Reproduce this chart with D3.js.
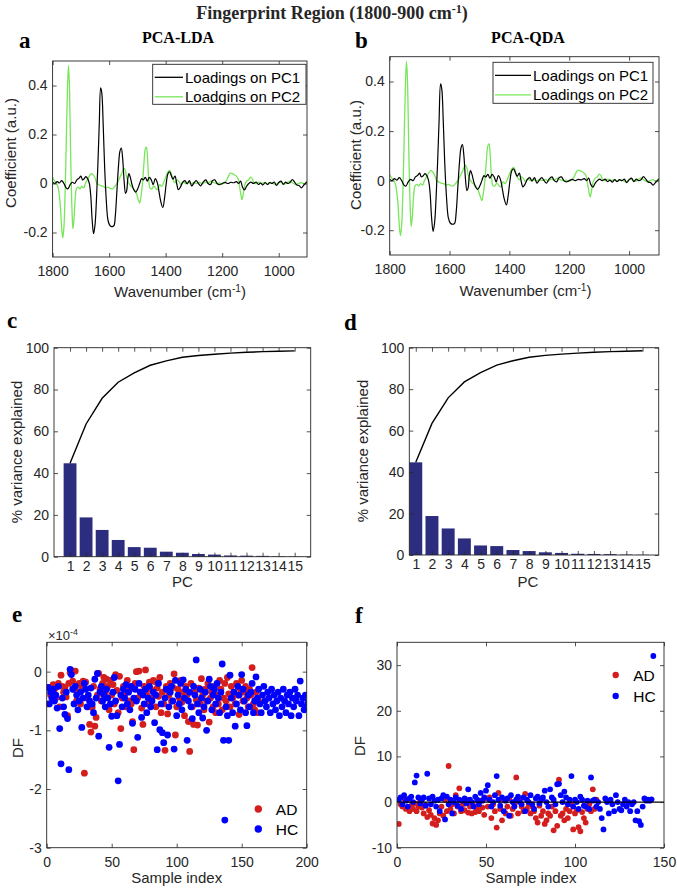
<!DOCTYPE html>
<html><head><meta charset="utf-8">
<script src="https://cdn.jsdelivr.net/npm/d3@7"></script>
<style>body{margin:0;background:#fff}</style>
</head><body><svg id="fig" width="677" height="892" xmlns="http://www.w3.org/2000/svg"></svg>
<script>
// ---------------- DATA ----------------
const wavenumberTicks = [1800, 1600, 1400, 1200, 1000];
const coefTicks = [-0.2, 0, 0.2, 0.4];
const pc1Loadings = [[1800,0.005],[1792,0.0],[1784,0.008],[1776,0.002],[1768,0.012],[1760,0.0],[1752,-0.018],[1746,-0.022],[1738,-0.005],[1730,0.005],[1722,0.0],[1714,0.015],[1706,0.022],[1700,0.03],[1694,0.015],[1688,0.02],[1682,0.028],[1676,0.02],[1670,0.0],[1665,-0.05],[1660,-0.15],[1655,-0.205],[1650,-0.17],[1645,-0.07],[1640,0.07],[1635,0.24],[1630,0.39],[1626,0.37],[1621,0.24],[1616,0.07],[1610,-0.07],[1604,-0.15],[1597,-0.172],[1590,-0.176],[1583,-0.172],[1578,-0.13],[1573,-0.04],[1567,0.07],[1562,0.13],[1557,0.145],[1552,0.1],[1547,0.01],[1542,-0.04],[1538,-0.03],[1534,0.02],[1530,0.04],[1525,0.025],[1519,-0.005],[1513,-0.025],[1506,-0.035],[1499,-0.022],[1492,0.0],[1485,0.02],[1479,0.015],[1472,0.025],[1465,0.01],[1458,0.025],[1451,0.015],[1444,-0.005],[1437,0.02],[1430,0.005],[1424,-0.03],[1418,-0.07],[1410,-0.098],[1404,-0.06],[1398,0.0],[1392,0.04],[1386,0.048],[1380,0.032],[1374,0.018],[1367,0.03],[1361,0.0],[1355,-0.025],[1348,-0.015],[1340,0.005],[1332,0.012],[1324,-0.002],[1316,0.012],[1308,-0.01],[1300,0.002],[1292,0.012],[1284,0.0],[1276,-0.01],[1268,0.005],[1258,0.015],[1250,0.0],[1242,-0.005],[1234,0.012],[1226,0.015],[1218,0.0],[1210,-0.005],[1200,0.0],[1190,0.005],[1180,0.0],[1170,0.005],[1160,0.003],[1150,0.008],[1142,0.0],[1135,0.01],[1128,-0.015],[1121,-0.026],[1114,-0.012],[1106,0.0],[1098,0.006],[1090,0.0],[1080,0.006],[1072,-0.004],[1064,0.002],[1056,-0.006],[1048,0.004],[1040,-0.004],[1032,0.004],[1024,0.0],[1016,0.006],[1008,-0.008],[1000,0.004],[992,0.01],[984,-0.004],[976,0.006],[968,0.0],[960,0.004],[952,0.016],[944,0.006],[936,-0.006],[928,-0.008],[920,-0.018],[912,-0.008],[904,0.002],[900,0.006]];
const pc2Loadings = [[1800,0.025],[1794,0.012],[1788,0.004],[1782,-0.01],[1777,-0.04],[1772,-0.1],[1768,-0.18],[1764,-0.222],[1760,-0.18],[1756,-0.05],[1752,0.15],[1748,0.36],[1744,0.482],[1741,0.42],[1738,0.25],[1735,0.05],[1731,-0.12],[1728,-0.185],[1724,-0.14],[1720,-0.06],[1715,-0.02],[1709,-0.015],[1703,-0.022],[1697,-0.012],[1690,-0.018],[1684,0.0],[1677,0.015],[1670,0.03],[1663,0.04],[1656,0.035],[1649,0.02],[1643,0.0],[1636,-0.005],[1628,-0.01],[1620,-0.012],[1612,-0.018],[1604,-0.015],[1596,-0.02],[1588,-0.022],[1580,-0.012],[1572,0.0],[1564,0.02],[1556,0.04],[1548,0.062],[1543,0.055],[1538,0.025],[1532,0.005],[1525,-0.008],[1518,-0.015],[1511,-0.025],[1504,-0.04],[1497,-0.065],[1492,-0.08],[1487,-0.05],[1482,0.0],[1477,0.08],[1472,0.14],[1468,0.148],[1464,0.1],[1460,0.02],[1455,-0.02],[1449,-0.022],[1442,-0.01],[1435,-0.02],[1428,-0.025],[1421,-0.005],[1414,-0.012],[1407,0.005],[1400,0.025],[1393,0.045],[1386,0.053],[1380,0.04],[1374,0.015],[1367,0.003],[1360,0.015],[1353,0.008],[1346,-0.005],[1338,0.008],[1330,0.0],[1320,0.006],[1310,-0.002],[1300,0.004],[1290,0.0],[1280,0.005],[1270,-0.002],[1260,0.006],[1250,0.002],[1240,0.01],[1230,0.004],[1220,0.0],[1210,0.002],[1200,-0.002],[1192,0.003],[1185,0.012],[1178,0.03],[1171,0.042],[1164,0.04],[1157,0.036],[1150,0.03],[1144,0.02],[1139,-0.01],[1134,-0.045],[1130,-0.066],[1126,-0.045],[1120,-0.005],[1113,0.01],[1106,0.015],[1100,0.026],[1094,0.02],[1088,0.004],[1080,0.0],[1070,0.006],[1060,0.0],[1050,0.004],[1040,-0.002],[1030,0.004],[1020,0.0],[1010,-0.004],[1000,0.003],[990,0.006],[980,-0.003],[970,0.004],[960,0.01],[950,0.002],[940,-0.004],[930,0.0],[920,0.004],[910,-0.002],[900,0.01]];

const pcNumbers = [1,2,3,4,5,6,7,8,9,10,11,12,13,14,15];
const varExplained = [44.7,18.8,12.8,8.0,4.6,4.3,2.4,1.9,1.3,1.0,0.6,0.5,0.4,0.2,0.1];
const cumVarExplained = [44.7,63.5,75.8,83.5,88.0,91.6,93.7,95.4,96.3,96.9,97.4,97.8,98.1,98.3,98.5];
const varTicks = [0,20,40,60,80,100];

// PCA-LDA discriminant function (x 1e-4), one value per sample index
const ldaAD = [-0.55,-0.27,-0.40,-0.35,-0.22,-0.30,-0.45,-0.25,-0.20,-0.60,
 -0.06,-0.25,-0.35,-0.27,-0.43,-0.75,-0.20,-0.02,0.02,-0.16,
 -0.30,0.01,-0.50,-0.35,-0.20,-0.55,-0.28,-0.16,-1.73,-0.18,
 -0.45,-0.60,-0.90,-1.03,-0.61,-0.25,-0.93,-0.78,-0.40,-0.03,
 -0.30,-0.50,-0.20,-0.10,-0.35,-0.13,-0.25,-0.65,-0.15,-0.40,
 -0.22,-0.55,-0.05,-0.32,-0.70,-0.08,-0.97,-0.45,-0.25,-0.38,
 -0.60,-0.15,-0.50,-0.30,-0.55,-0.85,-1.33,-0.20,0.00,-0.45,
 0.01,-0.35,-0.62,-0.90,-0.25,0.03,-0.40,-0.55,-0.18,-0.30,
 -0.45,-0.15,-0.17,-0.60,-0.28,-0.42,-0.10,-0.70,-0.35,-0.55,
 -1.34,-0.25,-0.72,-0.40,-0.20,-0.50,-0.27,-0.04,-1.08,-0.60,
 -0.30,-0.45,-0.15,-0.52,-0.35,-0.75,-0.25,-0.40,-0.85,-1.36,
 -0.20,-0.60,-0.90,-0.35,-0.48,-0.91,-0.28,-0.55,-0.12,-0.40,
 -0.65,-0.30,-0.50,-0.20,-0.86,-0.45,-0.35,-0.60,-0.25,-0.70,
 -0.40,-0.55,-0.15,-0.30,-0.65,-0.45,-0.20,-0.50,-0.10,-0.38,
 -0.60,-0.25,-0.45,-0.35,-0.55,-0.20,-0.40,-0.73,-0.30,-0.15,
 -0.50,-0.35,-0.25,-0.45,-0.60,-0.30,-0.40,0.07,-0.55,-0.65,
 -0.35,-0.70,-0.50];
const ldaHC = [-0.27,-0.55,-0.35,-0.45,-0.30,-0.50,-0.40,-0.62,-0.25,-0.97,
 -1.57,-0.45,-0.60,-0.73,-0.35,-0.80,-1.67,0.04,-0.05,-0.30,
 -0.55,-0.25,-0.40,-0.65,-0.50,-0.35,-0.95,-0.45,-0.20,-0.30,
 -0.60,-0.40,-0.50,-0.28,-0.55,-0.70,-0.13,-0.45,-0.03,-1.10,
 -0.35,-0.25,-0.50,-0.40,-0.60,-0.30,-0.45,-1.29,-0.55,-0.76,
 -0.35,-0.10,-0.50,-0.75,-1.86,-1.24,-0.40,-0.60,-0.30,-0.45,
 -0.22,-0.55,-0.35,-0.65,-0.25,-0.88,-0.45,-0.30,-0.50,-1.12,
 -0.20,-0.35,-0.78,-0.40,-0.55,-0.30,-0.70,-0.45,-0.25,-0.60,
 -0.50,-0.35,-0.87,-0.40,-1.33,-0.20,-0.99,-0.55,-1.04,-1.21,
 -0.45,-0.30,-1.08,-0.60,-0.35,-0.25,-0.50,-1.32,-0.15,-0.75,
 -0.40,-0.55,-0.20,-0.65,-0.14,-0.45,-0.30,-1.17,-0.50,-0.35,
 -0.60,-0.80,-0.25,-0.40,0.20,-0.55,-0.70,-0.30,-0.45,-0.79,
 -0.60,-0.35,-1.00,-0.50,-0.13,-0.25,-0.65,-0.40,-0.30,-0.55,
 -0.20,-0.45,-0.70,-0.35,0.13,-1.17,-2.53,-0.60,-0.75,-1.17,
 -0.06,-0.45,-0.70,-0.35,-0.93,-0.55,-0.25,-0.40,-0.65,-0.05,
 -0.30,-0.50,-0.70,-0.92,-0.40,-0.60,-0.35,-0.20,-0.70,-0.50,
 -0.09,-0.45,-0.30,-0.55,-0.70,-0.40,-0.25,-0.50,-0.60,-0.35,
 -0.45,-0.70,-0.30,-0.55,-0.40,-0.65,-0.50,-0.35,-0.75,-0.45,
 -0.60,-0.30,-0.50,-0.70,-0.40,-0.55,-0.35,-0.75,-0.45,-0.60,
 -0.30,-0.50,-0.40,-0.75,-0.16,-0.55,-0.45,-0.65,-0.40,-0.60,-0.52];
const ldaXTicks = [0,50,100,150,200];
const ldaYTicks = [-3,-2,-1,0];

// PCA-QDA discriminant function, one value per sample index
const qdaAD = [-4.8,-0.5,-1.0,0.8,-1.5,0.5,-2.0,-0.8,-1.5,-0.3,
 -2.0,-1.0,0.5,-1.2,-2.5,-0.7,-3.3,-1.8,-2.8,-4.7,
 -3.5,-5.0,-4.0,-2.5,-1.0,-3.0,0.5,-2.0,7.9,-1.5,
 -0.5,-2.5,1.5,-1.0,3.0,-2.0,-0.5,-1.8,0.5,-2.3,
 -1.0,-2.5,-0.8,-2.2,-1.5,-2.0,0.3,-1.2,-2.8,0.8,
 -1.0,1.0,-3.5,-0.5,-2.0,-5.6,2.0,-1.5,-4.0,0.5,
 -2.5,-1.0,0.8,-3.0,-1.5,-0.5,5.4,-2.5,0.5,-1.0,
 -2.0,1.8,-1.5,-0.5,-2.5,-1.0,-2.0,-3.5,-4.5,-0.8,
 -3.0,-2.0,-4.8,-4.0,-2.5,-3.0,-1.0,-6.2,-2.0,-5.2,
 4.9,-3.0,-2.5,-4.0,-1.5,-3.5,-2.0,-0.5,-6.0,-2.5,
 -1.8,-5.5,-6.4,-2.2,-3.5,-4.5,-1.5,-0.5,-2.0,2.8,
 -1.5,0.5];
const qdaHC = [0.5,1.0,-0.5,1.5,0.3,-1.0,0.8,1.2,0.0,4.3,
 5.8,1.0,-0.3,0.5,1.0,-0.8,6.2,0.8,-0.5,1.2,
 0.3,-1.0,0.5,-2.0,0.8,1.5,-3.8,1.2,-0.5,0.5,
 -2.5,0.0,1.0,-0.8,0.5,-1.5,0.3,0.8,-0.3,2.8,
 0.5,0.0,-1.0,1.2,0.5,-0.5,2.0,0.3,1.0,2.5,
 3.7,0.5,-1.0,0.0,1.5,5.7,0.5,-0.8,1.0,-2.0,
 0.3,0.8,-3.0,1.5,0.0,-1.0,0.5,1.2,0.0,-0.5,
 1.0,-2.0,0.5,0.0,1.5,-0.5,-1.5,0.8,1.2,-0.3,
 0.5,1.0,2.5,0.0,-1.0,2.8,1.0,0.5,-0.5,3.9,
 4.0,1.5,0.0,2.3,1.0,-0.5,0.5,5.7,-1.0,0.5,
 0.0,-1.5,1.2,0.5,-0.8,-1.0,0.3,-1.5,5.4,0.3,
 0.5,-1.0,0.0,-1.5,-3.5,-6.0,0.8,0.0,-2.5,0.5,
 -0.5,-2.0,1.5,0.0,-1.5,-1.8,-0.5,0.5,-1.0,0.0,
 -2.0,-0.5,0.0,-4.0,-2.0,-4.2,-5.0,-1.0,0.8,0.3,
 0.5,0.3,0.6,32.0];
const qdaXTicks = [0,50,100,150];
const qdaYTicks = [-10,0,10,20,30];
const groups = ["AD","HC"];

// ---------------- DRAW ----------------
const INK = "#262626", SANS = "'Liberation Sans', Arial, sans-serif", SERIF = "'Liberation Serif', 'Times New Roman', serif";
const RED = "#d41e1e", BLUE = "#0000ff", GREEN = "#78e65a", NAVY = "#2d2d80";
const svg = d3.select("#fig");

function txt(x, y, s, o = {}) {
  const t = svg.append("text").attr("x", x).attr("y", y).attr("fill", o.fill || INK)
    .style("font-family", o.family || SANS).style("font-size", (o.size || 15) + "px")
    .style("font-weight", o.weight || "normal").attr("text-anchor", o.anchor || "start");
  if (o.rot) t.attr("transform", `rotate(-90,${x},${y})`);
  t.text(s);
  if (o.sup) { t.append("tspan").attr("dy", -o.size * 0.35).style("font-size", (o.size * 0.68) + "px").text(o.sup);
    if (o.after) t.append("tspan").attr("dy", o.size * 0.35).text(o.after); }
  return t;
}

function axesBox(x, y, xt, yt, o) {
  const [x0, x1] = x.range(), [y0, y1] = y.range();
  const g = svg.append("g");
  const fx = o.xfmt || (d => String(d)), fy = o.yfmt || (d => String(d));
  const axes = [
    g.append("g").attr("transform", `translate(0,${y0})`).call(d3.axisBottom(x).tickValues(xt).tickSize(-4).tickPadding(o.xpad).tickFormat(fx)),
    g.append("g").attr("transform", `translate(0,${y1})`).call(d3.axisTop(x).tickValues(xt).tickSize(-4).tickFormat("")),
    g.append("g").attr("transform", `translate(${x0},0)`).call(d3.axisLeft(y).tickValues(yt).tickSize(-4).tickPadding(o.ypad).tickFormat(fy)),
    g.append("g").attr("transform", `translate(${x1},0)`).call(d3.axisRight(y).tickValues(yt).tickSize(-4).tickFormat(""))
  ];
  axes.forEach(a => { a.select(".domain").remove();
    a.selectAll("line").attr("stroke", INK).attr("stroke-width", 0.8);
    a.selectAll("text").attr("fill", INK).style("font-size", "14px").style("font-family", SANS); });
  g.append("rect").attr("x", x0).attr("y", y1).attr("width", x1 - x0).attr("height", y0 - y1)
    .attr("fill", "none").attr("stroke", INK).attr("stroke-width", 0.9);
}

// Title
txt(332, 19, "Fingerprint Region (1800-900 cm", {family: SERIF, weight: "bold", size: 18, anchor: "middle", sup: "-1", after: ")"});

// ---- Loadings panels (a, b) ----
function loadings(L, o) {
  const x = d3.scaleLinear().domain([1800, 900]).range([L.x0, L.x1]);
  const y = d3.scaleLinear().domain([-0.3, 0.5]).range([L.y0, L.y1]);
  const id = "clip" + o.letter;
  svg.append("clipPath").attr("id", id).append("rect").attr("x", L.x0).attr("y", L.y1).attr("width", L.x1 - L.x0).attr("height", L.y0 - L.y1);
  const line = d3.line().x(d => x(d[0])).y(d => y(d[1])).curve(d3.curveCatmullRom.alpha(0.5));
  const g = svg.append("g").attr("clip-path", `url(#${id})`);
  g.append("path").datum(pc2Loadings).attr("d", line).attr("fill", "none").attr("stroke", GREEN).attr("stroke-width", 1.3);
  g.append("path").datum(pc1Loadings).attr("d", line).attr("fill", "none").attr("stroke", "#000").attr("stroke-width", 1.2);
  axesBox(x, y, wavenumberTicks, coefTicks, {xpad: 9, ypad: 5});
  // legend
  const B = o.legend;
  svg.append("rect").attr("x", B.x).attr("y", B.y).attr("width", B.w).attr("height", B.h).attr("fill", "#fff").attr("stroke", INK).attr("stroke-width", 0.9);
  [["#000", o.names[0]], [GREEN, o.names[1]]].forEach((r, i) => {
    const yy = B.y + 13 + i * 19.5;
    svg.append("line").attr("x1", B.x + 2).attr("x2", B.lx).attr("y1", yy).attr("y2", yy).attr("stroke", r[0]).attr("stroke-width", 1.3);
    txt(B.lx + 2, yy + 5.5, r[1], {size: 15, fill: "#000"});
  });
  txt(o.ylab[0], o.ylab[1], "Coefficient (a.u.)", {size: 15, anchor: "middle", rot: true});
  txt(o.xlab[0], o.xlab[1], "Wavenumber (cm", {size: 15, anchor: "middle", sup: "-1", after: ")"});
  txt(o.title[0], o.title[1], o.titleText, {family: SERIF, weight: "bold", size: 16, anchor: "middle", fill: "#000"});
  txt(o.lpos[0], o.lpos[1], o.letter, {family: SERIF, weight: "bold", size: 23, fill: "#000"});
}
loadings({x0: 52.6, x1: 307, y0: 257, y1: 61}, {letter: "a", names: ["Loadings on PC1", "Loadgins on PC2"],
  legend: {x: 152.7, y: 64.3, w: 153.3, h: 40, lx: 183}, ylab: [15.5, 153], xlab: [180, 297], title: [178, 43], titleText: "PCA-LDA", lpos: [19, 48]});
loadings({x0: 389.7, x1: 659, y0: 255, y1: 56.7}, {letter: "b", names: ["Loadings on PC1", "Loadings on PC2"],
  legend: {x: 493, y: 62.3, w: 160, h: 41, lx: 531}, ylab: [361, 155], xlab: [525.5, 296], title: [528, 43], titleText: "PCA-QDA", lpos: [355, 48]});

// ---- Pareto panels (c, d) ----
function pareto(L, o) {
  const x = d3.scaleLinear().domain(L.dom).range([L.x0, L.x1]);
  const y = d3.scaleLinear().domain([0, 100]).range([L.y0, L.y1]);
  const bw = x(1.8) - x(1);
  svg.append("g").selectAll("rect").data(pcNumbers).join("rect")
    .attr("x", d => x(d) - bw / 2).attr("width", bw)
    .attr("y", (d, i) => y(varExplained[i])).attr("height", (d, i) => y(0) - y(varExplained[i]))
    .attr("fill", NAVY);
  svg.append("path").datum(pcNumbers.map((d, i) => [d, cumVarExplained[i]]))
    .attr("d", d3.line().x(d => x(d[0])).y(d => y(d[1])))
    .attr("fill", "none").attr("stroke", "#000").attr("stroke-width", 1.4);
  axesBox(x, y, pcNumbers, varTicks, {xpad: 4, ypad: 5});
  txt(o.ylab[0], o.ylab[1], "% variance explained", {size: 15, anchor: "middle", rot: true});
  txt(o.xlab[0], o.xlab[1], "PC", {size: 15, anchor: "middle"});
  txt(o.lpos[0], o.lpos[1], o.letter, {family: SERIF, weight: "bold", size: 23, fill: "#000"});
}
pareto({dom: [0, 16], x0: 54, x1: 310.7, y0: 556.7, y1: 347.7}, {letter: "c", ylab: [22, 452], xlab: [182.5, 587], lpos: [7, 328]});
pareto({dom: [0.6, 16], x0: 409.3, x1: 658.7, y0: 555, y1: 347.7}, {letter: "d", ylab: [368, 451], xlab: [528, 587], lpos: [344, 330]});

// ---- Discriminant function panels (e, f) ----
function scatter(L, o) {
  const x = d3.scaleLinear().domain(L.xd).range([L.x0, L.x1]);
  const y = d3.scaleLinear().domain(L.yd).range([L.y0, L.y1]);
  const id = "clip" + o.letter;
  svg.append("clipPath").attr("id", id).append("rect").attr("x", L.x0).attr("y", L.y1).attr("width", L.x1 - L.x0).attr("height", L.y0 - L.y1);
  const g = svg.append("g").attr("clip-path", `url(#${id})`);
  g.append("g").selectAll("circle").data(o.ad).join("circle")
    .attr("cx", (d, i) => x(i + 1)).attr("cy", d => y(d)).attr("r", o.r).attr("fill", RED);
  g.append("g").selectAll("circle").data(o.hc).join("circle")
    .attr("cx", (d, i) => x(i + 1)).attr("cy", d => y(d)).attr("r", o.r).attr("fill", BLUE);
  if (o.zeroLine) g.append("line").attr("x1", x(L.xd[0])).attr("x2", x(L.xd[1])).attr("y1", y(0)).attr("y2", y(0)).attr("stroke", "#000").attr("stroke-width", 1.3);
  axesBox(x, y, o.xt, o.yt, {xpad: 9, ypad: 5});
  // legend (no box)
  groups.forEach((gname, i) => {
    svg.append("circle").attr("cx", o.leg[0]).attr("cy", o.leg[1] + i * o.leg[2]).attr("r", o.r + 0.3).attr("fill", i ? BLUE : RED);
    txt(o.leg[0] + 17.5, o.leg[1] + i * o.leg[2] + 5.5, gname, {size: 15.5, fill: "#000"});
  });
  txt(o.ylab[0], o.ylab[1], "DF", {size: 15, anchor: "middle", rot: true});
  txt(o.xlab[0], o.xlab[1], "Sample index", {size: 15, anchor: "middle"});
  txt(o.lpos[0], o.lpos[1], o.letter, {family: SERIF, weight: "bold", size: 23, fill: "#000"});
}
scatter({xd: [0, 200], yd: [-3, 0.5], x0: 46.7, x1: 306.7, y0: 847.7, y1: 642.3},
  {letter: "e", ad: ldaAD, hc: ldaHC, r: 3.4, xt: ldaXTicks, yt: ldaYTicks, leg: [258.3, 809, 20], ylab: [23, 748], xlab: [176.7, 883], lpos: [12, 622]});
txt(48, 640, "\u00d710", {size: 13, sup: "-4"});
scatter({xd: [0, 150], yd: [-10, 35], x0: 397, x1: 664, y0: 847.7, y1: 642.3},
  {letter: "f", ad: qdaAD, hc: qdaHC, r: 2.9, xt: qdaXTicks, yt: qdaYTicks, leg: [615.7, 675, 21], zeroLine: true, ylab: [364.5, 746], xlab: [531, 883], lpos: [355, 623]});
</script></body></html>
